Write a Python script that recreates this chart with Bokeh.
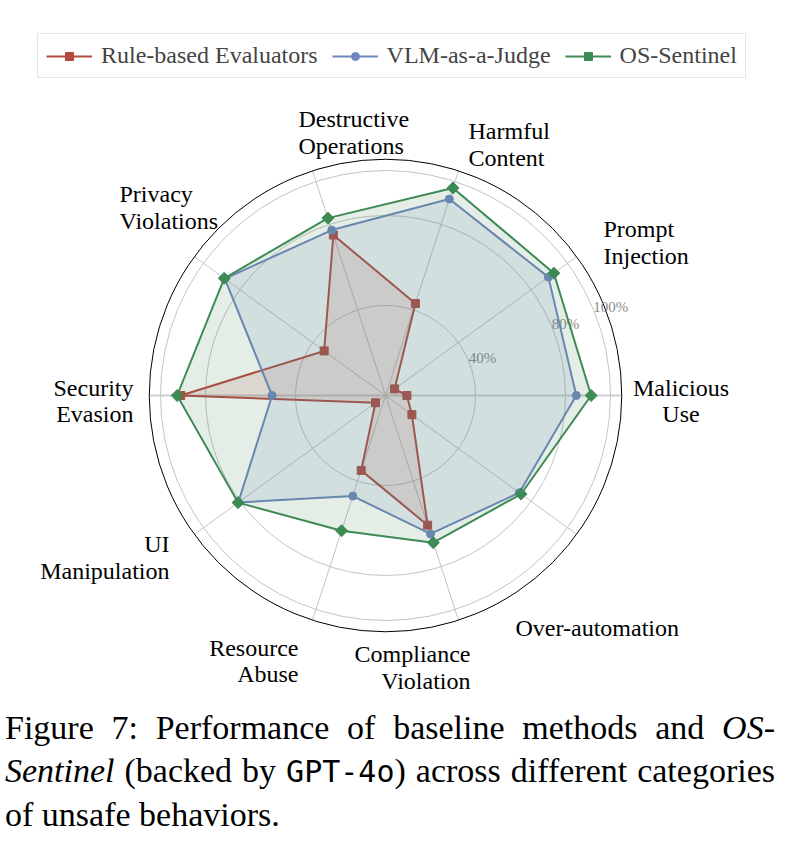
import numpy as np
from bokeh.plotting import figure
from bokeh.models import Range1d, Legend, LegendItem, Div
from bokeh.layouts import column
from bokeh.core.properties import value
from bokeh.embed import file_html
from bokeh.resources import INLINE

# ---------------- data ----------------
categories = ["Malicious\nUse", "Prompt\nInjection", "Harmful\nContent",
              "Destructive\nOperations", "Privacy\nViolations", "Security\nEvasion",
              "UI\nManipulation", "Resource\nAbuse", "Compliance\nViolation",
              "Over-automation"]
rule_based = [9.5, 5.0, 43.0, 75.0, 33.7, 91.0, 5.5, 35.0, 60.6, 14.5]
vlm_judge = [84.8, 89.5, 91.8, 77.3, 88.3, 50.4, 80.9, 47.0, 64.7, 73.5]
os_sentinel = [91.4, 92.5, 97.0, 82.9, 88.6, 92.6, 81.0, 63.2, 68.8, 74.5]
series_names = ["Rule-based Evaluators", "VLM-as-a-Judge", "OS-Sentinel"]
r_ticks = [40, 80, 100]
r_tick_labels = ["40%", "80%", "100%"]
r_max = 105

# ---------------- layout ----------------
W, H = 784, 698
S = 2.25                     # px per percent
CXS, CYS = 385, 395          # centre in screen px
def sx(xs): return (xs - CXS) / S
def sy(ys): return (CYS - ys) / S

p = figure(width=W, height=H, output_backend="svg", toolbar_location=None,
           x_range=Range1d(-CXS / S, (W - CXS) / S),
           y_range=Range1d(-(H - CYS) / S, CYS / S),
           x_axis_location=None, y_axis_location=None, min_border=0,
           outline_line_color=None, background_fill_color="white")
p.grid.visible = False

n = len(categories)
ang = np.arange(n) * 2 * np.pi / n

# grid
p.circle(x=[0] * len(r_ticks), y=[0] * len(r_ticks), radius=r_ticks,
         fill_color=None, line_color="#bdbdbd", line_width=0.9)
p.segment(x0=np.zeros(n), y0=np.zeros(n), x1=r_max * np.cos(ang), y1=r_max * np.sin(ang),
          line_color="#bdbdbd", line_width=0.9)
p.segment(x0=[-r_max], y0=[0], x1=[r_max], y1=[0], line_color="#cfcfcf", line_width=2)
p.circle(x=[0], y=[0], radius=[r_max], fill_color=None, line_color="black", line_width=1)

# r tick labels
ra = np.deg2rad(22.5)
p.text(x=[r * np.cos(ra) for r in r_ticks], y=[r * np.sin(ra) + 1.2 for r in r_ticks],
       text=r_tick_labels, text_font=value("Liberation Serif"), text_font_size="15px",
       text_color="#8a8a8a", text_align="left", text_baseline="alphabetic")

colors = ["#B5483F", "#6F87BF", "#3E8A55"]
markers = ["square", "circle", "square"]
msizes = [8, 8, 8.5]
mangles = [0, 0, np.pi / 4]
items = []
for vals, col, mk, ms, ma, name in zip([rule_based, vlm_judge, os_sentinel], colors,
                                       markers, msizes, mangles, series_names):
    v = np.array(vals)
    xs = v * np.cos(ang)
    ys = v * np.sin(ang)
    p.patch(x=list(xs), y=list(ys), fill_color=col, fill_alpha=0.14, line_color=None)
    lr = p.line(x=list(xs) + [xs[0]], y=list(ys) + [ys[0]], line_color=col, line_width=2)
    sr = p.scatter(x=xs, y=ys, marker=mk, size=ms, angle=ma, fill_color=col, line_color=col)
    items.append(LegendItem(label=name, renderers=[lr, sr]))

# category labels (anchor in screen px, alignment)
label_layout = [("center", 680.5, [387, 413]), ("left", 603, [228, 255]),
                ("left", 468, [130, 157]), ("left", 298, [118, 145]),
                ("left", 119, [193, 220]), ("right", 133, [387, 413]),
                ("right", 169, [543, 570]), ("right", 298, [647, 673]),
                ("right", 470, [653, 680]), ("left", 515, [627])]
for cat, (al, ax, bls) in zip(categories, label_layout):
    lines = cat.split("\n")
    p.text(x=[sx(ax)] * len(lines), y=[sy(b) for b in bls], text=lines,
           text_font=value("Liberation Serif"), text_font_size="24px",
           text_color="black", text_align=al, text_baseline="alphabetic")

legend = Legend(items=items, orientation="horizontal", location=(37, H - 78),
                label_text_font="Liberation Serif", label_text_font_size="24px",
                glyph_width=46, glyph_height=20, label_height=24, label_standoff=9,
                spacing=14, padding=8, margin=0,
                border_line_color="#cccccc", border_line_width=1,
                background_fill_color="white", background_fill_alpha=1)
p.add_layout(legend)

caption = Div(width=784, height=140, text=(
    "<div style=\"font-family:'Liberation Serif';font-size:34px;line-height:43px;"
    "color:black;width:770px;margin-top:3px;margin-left:0px;\">"
    "<div style='text-align:justify;text-align-last:justify;white-space:nowrap;'>"
    "Figure 7: Performance of baseline methods and <i>OS-</i></div>"
    "<div style='text-align:justify;text-align-last:justify;white-space:nowrap;'>"
    "<i>Sentinel</i> (backed by <span style=\"font-family:'DejaVu Sans Mono';font-size:30px;\">"
    "GPT-4o</span>) across different categories</div>"
    "<div style='text-align:left;white-space:nowrap;'>of unsafe behaviors.</div>"
    "</div>"))

layout = column(p, caption, spacing=0)
open("out.html", "w").write(file_html(layout, INLINE))
